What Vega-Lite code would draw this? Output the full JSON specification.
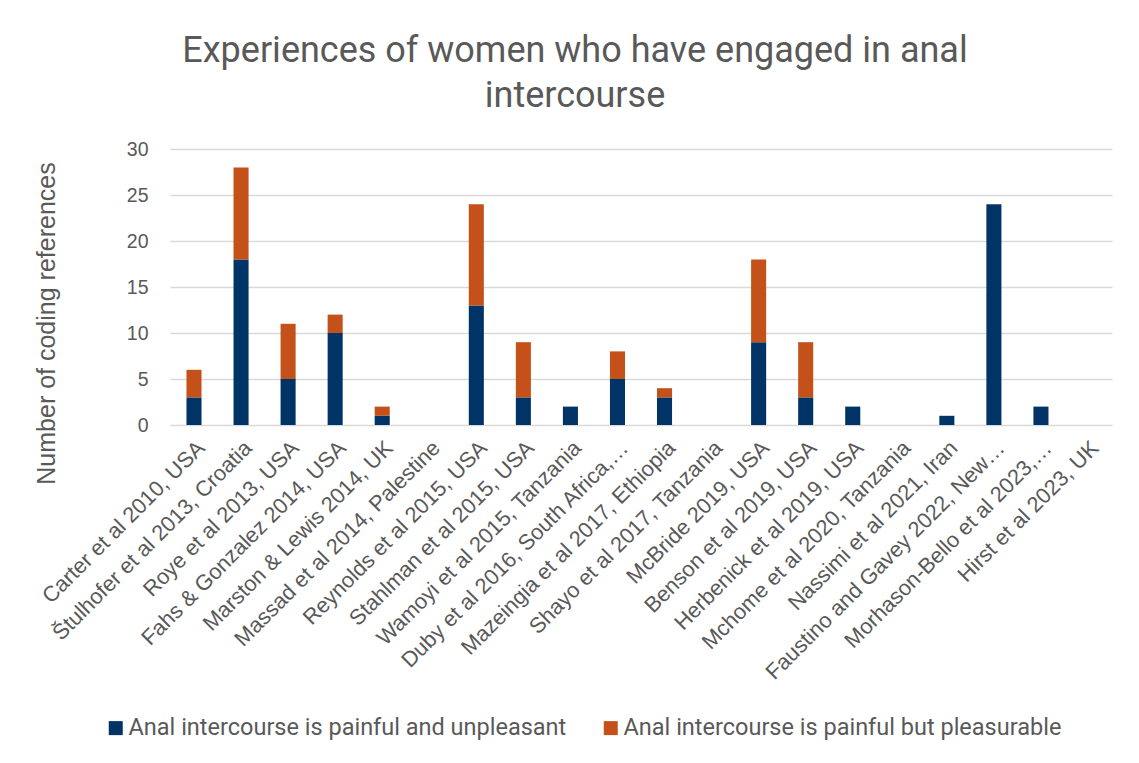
{
  "$schema": "https://vega.github.io/schema/vega-lite/v6.json",
  "width": 942,
  "height": 276,
  "autosize": {"type": "none"},
  "padding": {"left": 170, "top": 149, "right": 27, "bottom": 338},
  "background": "white",
  "title": {
    "text": ["Experiences of women who have engaged in anal", "intercourse"],
    "font": "Roboto",
    "fontSize": 36,
    "fontWeight": "normal",
    "color": "#595959",
    "anchor": "middle",
    "dx": -66,
    "offset": 24,
    "lineHeight": 45
  },
  "data": {
    "values": [
      {"study": "Carter et al 2010, USA", "series": "Anal intercourse is painful and unpleasant", "value": 3},
      {"study": "Carter et al 2010, USA", "series": "Anal intercourse is painful but pleasurable", "value": 3},
      {"study": "Štulhofer et al 2013, Croatia", "series": "Anal intercourse is painful and unpleasant", "value": 18},
      {"study": "Štulhofer et al 2013, Croatia", "series": "Anal intercourse is painful but pleasurable", "value": 10},
      {"study": "Roye et al 2013, USA", "series": "Anal intercourse is painful and unpleasant", "value": 5},
      {"study": "Roye et al 2013, USA", "series": "Anal intercourse is painful but pleasurable", "value": 6},
      {"study": "Fahs & Gonzalez 2014, USA", "series": "Anal intercourse is painful and unpleasant", "value": 10},
      {"study": "Fahs & Gonzalez 2014, USA", "series": "Anal intercourse is painful but pleasurable", "value": 2},
      {"study": "Marston & Lewis 2014, UK", "series": "Anal intercourse is painful and unpleasant", "value": 1},
      {"study": "Marston & Lewis 2014, UK", "series": "Anal intercourse is painful but pleasurable", "value": 1},
      {"study": "Massad et al 2014, Palestine", "series": "Anal intercourse is painful and unpleasant", "value": 0},
      {"study": "Massad et al 2014, Palestine", "series": "Anal intercourse is painful but pleasurable", "value": 0},
      {"study": "Reynolds et al 2015, USA", "series": "Anal intercourse is painful and unpleasant", "value": 13},
      {"study": "Reynolds et al 2015, USA", "series": "Anal intercourse is painful but pleasurable", "value": 11},
      {"study": "Stahlman et al 2015, USA", "series": "Anal intercourse is painful and unpleasant", "value": 3},
      {"study": "Stahlman et al 2015, USA", "series": "Anal intercourse is painful but pleasurable", "value": 6},
      {"study": "Wamoyi et al 2015, Tanzania", "series": "Anal intercourse is painful and unpleasant", "value": 2},
      {"study": "Wamoyi et al 2015, Tanzania", "series": "Anal intercourse is painful but pleasurable", "value": 0},
      {"study": "Duby et al 2016, South Africa,…", "series": "Anal intercourse is painful and unpleasant", "value": 5},
      {"study": "Duby et al 2016, South Africa,…", "series": "Anal intercourse is painful but pleasurable", "value": 3},
      {"study": "Mazeingia et al 2017, Ethiopia", "series": "Anal intercourse is painful and unpleasant", "value": 3},
      {"study": "Mazeingia et al 2017, Ethiopia", "series": "Anal intercourse is painful but pleasurable", "value": 1},
      {"study": "Shayo et al 2017, Tanzania", "series": "Anal intercourse is painful and unpleasant", "value": 0},
      {"study": "Shayo et al 2017, Tanzania", "series": "Anal intercourse is painful but pleasurable", "value": 0},
      {"study": "McBride 2019, USA", "series": "Anal intercourse is painful and unpleasant", "value": 9},
      {"study": "McBride 2019, USA", "series": "Anal intercourse is painful but pleasurable", "value": 9},
      {"study": "Benson et al 2019, USA", "series": "Anal intercourse is painful and unpleasant", "value": 3},
      {"study": "Benson et al 2019, USA", "series": "Anal intercourse is painful but pleasurable", "value": 6},
      {"study": "Herbenick et al 2019, USA", "series": "Anal intercourse is painful and unpleasant", "value": 2},
      {"study": "Herbenick et al 2019, USA", "series": "Anal intercourse is painful but pleasurable", "value": 0},
      {"study": "Mchome et al 2020, Tanzania", "series": "Anal intercourse is painful and unpleasant", "value": 0},
      {"study": "Mchome et al 2020, Tanzania", "series": "Anal intercourse is painful but pleasurable", "value": 0},
      {"study": "Nassimi et al 2021, Iran", "series": "Anal intercourse is painful and unpleasant", "value": 1},
      {"study": "Nassimi et al 2021, Iran", "series": "Anal intercourse is painful but pleasurable", "value": 0},
      {"study": "Faustino and Gavey 2022, New…", "series": "Anal intercourse is painful and unpleasant", "value": 24},
      {"study": "Faustino and Gavey 2022, New…", "series": "Anal intercourse is painful but pleasurable", "value": 0},
      {"study": "Morhason-Bello et al 2023,…", "series": "Anal intercourse is painful and unpleasant", "value": 2},
      {"study": "Morhason-Bello et al 2023,…", "series": "Anal intercourse is painful but pleasurable", "value": 0},
      {"study": "Hirst et al 2023, UK", "series": "Anal intercourse is painful and unpleasant", "value": 0},
      {"study": "Hirst et al 2023, UK", "series": "Anal intercourse is painful but pleasurable", "value": 0}
    ]
  },
  "mark": {"type": "bar"},
  "encoding": {
    "x": {
      "field": "study",
      "type": "nominal",
      "sort": null,
      "scale": {"paddingInner": 0.68, "paddingOuter": 0.35},
      "axis": {
        "title": null,
        "labelAngle": -45,
        "labelFontSize": 21.8,
        "labelColor": "#595959",
        "labelFont": "Liberation Sans",
        "domain": false,
        "ticks": false,
        "labelPadding": 12,
        "labelLimit": 400
      }
    },
    "y": {
      "field": "value",
      "type": "quantitative",
      "stack": "zero",
      "scale": {"domain": [0, 30]},
      "axis": {
        "values": [0, 5, 10, 15, 20, 25, 30],
        "title": "Number of coding references",
        "titleFont": "Liberation Sans",
        "titleFontSize": 25,
        "titleFontWeight": "normal",
        "titleColor": "#595959",
        "titleX": -124,
        "titleY": 174,
        "titleAngle": -90,
        "titleAlign": "center",
        "titleBaseline": "middle",
        "labelFont": "Liberation Sans",
        "labelFontSize": 19.5,
        "labelColor": "#595959",
        "labelPadding": 22,
        "domain": false,
        "ticks": false,
        "gridColor": "#D9D9D9",
        "gridWidth": 1.3
      }
    },
    "color": {
      "field": "series",
      "type": "nominal",
      "scale": {
        "domain": ["Anal intercourse is painful and unpleasant", "Anal intercourse is painful but pleasurable"],
        "range": ["#003366", "#C4511A"]
      },
      "legend": {
        "title": null,
        "orient": "none",
        "direction": "horizontal",
        "legendX": -66,
        "legendY": 567,
        "symbolType": "square",
        "symbolSize": 196,
        "symbolStrokeWidth": 0,
        "labelFont": "Roboto",
        "labelFontSize": 23.5,
        "labelColor": "#595959",
        "labelOffset": 1,
        "labelLimit": 600,
        "columnPadding": 32
      }
    },
    "order": {"field": "series", "sort": "ascending"}
  },
  "config": {
    "view": {"stroke": null}
  }
}
